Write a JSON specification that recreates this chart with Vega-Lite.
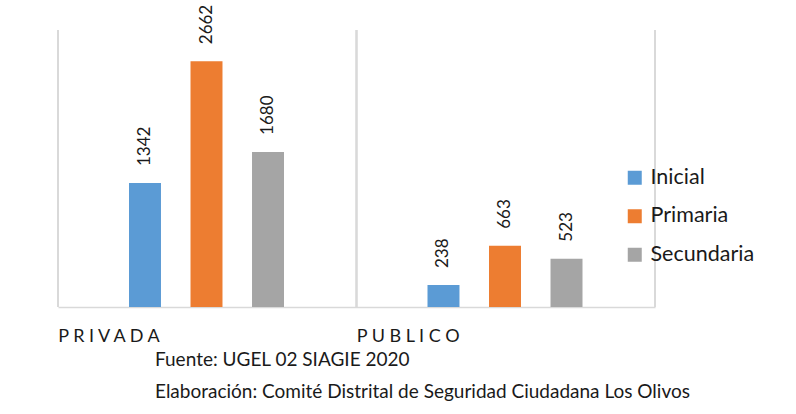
{
  "$schema": "https://vega.github.io/schema/vega-lite/v6.json",
  "width": 597,
  "height": 277,
  "autosize": {"type": "none"},
  "padding": {"left": 58, "top": 30, "right": 141, "bottom": 107},
  "background": "white",
  "config": {
    "font": "Lato",
    "view": {"stroke": null},
    "text": {"font": "Lato"}
  },
  "title": {
    "text": ["Fuente: UGEL 02 SIAGIE 2020", "Elaboración: Comité Distrital de Seguridad Ciudadana Los Olivos"],
    "orient": "bottom",
    "anchor": "start",
    "frame": "group",
    "dx": 97,
    "offset": 6,
    "fontSize": 19,
    "fontWeight": "normal",
    "color": "#1a1a1a",
    "lineHeight": 32,
    "font": "Lato"
  },
  "data": {
    "values": [
      {"sector": "PRIVADA", "nivel": "Inicial", "alumnos": 1342},
      {"sector": "PRIVADA", "nivel": "Primaria", "alumnos": 2662},
      {"sector": "PRIVADA", "nivel": "Secundaria", "alumnos": 1680},
      {"sector": "PUBLICO", "nivel": "Inicial", "alumnos": 238},
      {"sector": "PUBLICO", "nivel": "Primaria", "alumnos": 663},
      {"sector": "PUBLICO", "nivel": "Secundaria", "alumnos": 523}
    ]
  },
  "layer": [
    {
      "mark": {"type": "rule", "color": "#d9d9d9", "strokeWidth": 1.5},
      "encoding": {
        "x": {"field": "sector", "type": "nominal", "bandPosition": 0, "scale": {"paddingInner": 0, "paddingOuter": 0},
          "axis": {
            "title": null,
            "labelAlign": "left",
            "labelAngle": 0,
            "labelFontSize": 18,
            "labelColor": "#1a1a1a",
            "labelPadding": 20,
            "labelOffset": -149,
            "labelExpr": "join(split(datum.label, ''), ' ')",
            "ticks": false,
            "grid": false,
            "domainColor": "#d9d9d9",
            "domainWidth": 1.5
          }
        }
      }
    },
    {
      "mark": {"type": "rule", "color": "#d9d9d9", "strokeWidth": 1.5},
      "encoding": {
        "x": {"field": "sector", "type": "nominal", "bandPosition": 1}
      }
    },
    {
      "mark": {"type": "bar"},
      "encoding": {
        "x": {"field": "sector", "type": "nominal"},
        "xOffset": {"field": "nivel", "type": "nominal", "scale": {"range": [71, 226], "paddingInner": 0.48, "paddingOuter": 0}},
        "y": {"field": "alumnos", "type": "quantitative", "scale": {"domain": [0, 3000]}, "axis": null},
        "color": {
          "field": "nivel", "type": "nominal",
          "scale": {"domain": ["Inicial", "Primaria", "Secundaria"], "range": ["#5B9BD5", "#ED7D31", "#A5A5A5"]},
          "legend": {
            "title": null,
            "orient": "none",
            "legendX": 566,
            "legendY": 137,
            "symbolType": "square",
            "symbolSize": 196,
            "symbolStrokeWidth": 0,
            "labelFontSize": 21.5,
            "labelColor": "#1a1a1a",
            "labelOffset": 5,
            "rowPadding": 15.5,
            "labelFont": "Lato"
          }
        }
      }
    },
    {
      "mark": {"type": "text", "angle": 270, "align": "left", "baseline": "middle", "dx": 17, "fontSize": 17, "color": "#1a1a1a"},
      "encoding": {
        "x": {"field": "sector", "type": "nominal"},
        "xOffset": {"field": "nivel", "type": "nominal"},
        "y": {"field": "alumnos", "type": "quantitative"},
        "text": {"field": "alumnos", "type": "quantitative", "format": "d"}
      }
    }
  ]
}
